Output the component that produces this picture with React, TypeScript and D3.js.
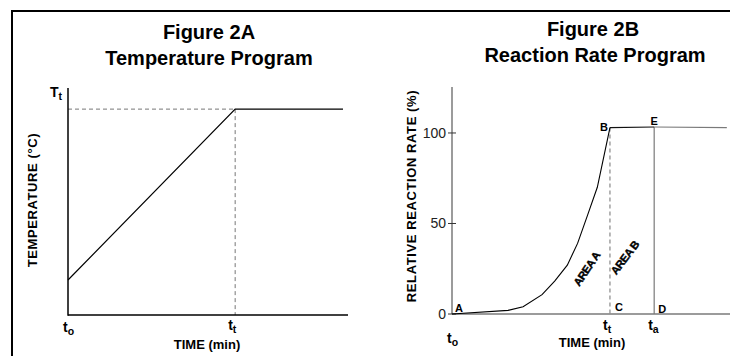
import React from 'react';
import * as d3 from 'd3';

// Figure 2A: temperature program (arbitrary units)
const tempTime = [0, 20, 32.9];
const tempValue = [15.4, 90.7, 90.7];
const tempTt = 20;
const tempTop = 90.7;

// Figure 2B: reaction rate program
const rateTime = [0, 7.1, 9.0, 11.4, 13.0, 14.6, 15.9, 17.2, 18.4, 20];
const rateValue = [0, 2, 4, 10.7, 18.2, 27, 39, 55, 70, 103];
const plateauTime = [20, 25.6];
const plateauValue = [103, 103.3];
const tailTime = [25.6, 34.8];
const tailValue = [103.3, 103];
const rateTicks = [0, 50, 100];
const tT = 20;
const tA = 25.6;

const FONT = 'Liberation Sans, Arial, Helvetica, sans-serif';

const Sub: React.FC<{ x: number; y: number; main: string; sub: string; size?: number }> = ({ x, y, main, sub, size = 14 }) => (
  <text x={x} y={y} fontSize={size} fontWeight="bold">
    {main}
    <tspan fontSize={size * 0.75} dy={3}>{sub}</tspan>
  </text>
);

const App: React.FC = () => {
  // panel A scales
  const xA = d3.scaleLinear().domain([0, 33.5]).range([68, 348]);
  const yA = d3.scaleLinear().domain([0, 100]).range([315, 88]);
  const lineA = d3.line<number>().x((_, i) => xA(tempTime[i])).y(d => yA(d));

  // panel B scales
  const xB = d3.scaleLinear().domain([0, 35.2]).range([452, 730]);
  const yB = d3.scaleLinear().domain([0, 125.4]).range([314, 87]);
  const lineB = d3.line<[number, number]>().x(d => xB(d[0])).y(d => yB(d[1]));
  const curve = rateTime.map((t, i) => [t, rateValue[i]] as [number, number]);
  const plateau = plateauTime.map((t, i) => [t, plateauValue[i]] as [number, number]);
  const tail = tailTime.map((t, i) => [t, tailValue[i]] as [number, number]);

  const grayAxis = '#7a7a7a';

  return (
    <svg width={730} height={356} style={{ position: 'absolute', left: 0, top: 0, background: '#fff' }} fontFamily={FONT}>
      {/* frame */}
      <line x1={12} y1={11} x2={730} y2={11} stroke="#000" strokeWidth={2} />
      <line x1={12} y1={10} x2={12} y2={356} stroke="#000" strokeWidth={2} />

      {/* ---- Figure 2A ---- */}
      <text x={209} y={39} fontSize={20} fontWeight="bold" textAnchor="middle">Figure 2A</text>
      <text x={209} y={65} fontSize={20} fontWeight="bold" textAnchor="middle">Temperature Program</text>

      <line x1={xA(0)} y1={yA(tempTop)} x2={xA(tempTt)} y2={yA(tempTop)} stroke="#777" strokeDasharray="4,3" />
      <line x1={xA(tempTt)} y1={yA(tempTop)} x2={xA(tempTt)} y2={yA(0)} stroke="#777" strokeDasharray="4,3" />
      <path d={lineA(tempValue) || ''} fill="none" stroke="#000" strokeWidth={1.2} />
      <line x1={xA(0)} y1={yA(0)} x2={xA(33.5)} y2={yA(0)} stroke="#000" strokeWidth={1.5} />
      <line x1={xA(0)} y1={yA(100)} x2={xA(0)} y2={yA(0) + 0.75} stroke="#000" strokeWidth={1.5} />

      <Sub x={50} y={97} main="T" sub="t" />
      <Sub x={xA(0) - 5} y={332} main="t" sub="o" />
      <Sub x={xA(tempTt) - 7} y={330} main="t" sub="t" />
      <text x={207} y={349} fontSize={13} fontWeight="bold" textAnchor="middle">TIME (min)</text>
      <text transform="translate(37,200) rotate(-90)" fontSize={13} fontWeight="bold" textAnchor="middle" letterSpacing={0.6}>TEMPERATURE (°C)</text>

      {/* ---- Figure 2B ---- */}
      <text x={593} y={36} fontSize={20} fontWeight="bold" textAnchor="middle">Figure 2B</text>
      <text x={595} y={62} fontSize={20} fontWeight="bold" textAnchor="middle">Reaction Rate Program</text>

      <line x1={xB(0)} y1={yB(125.4)} x2={xB(0)} y2={yB(0)} stroke={grayAxis} strokeWidth={1.5} />
      <line x1={xB(0)} y1={yB(0)} x2={730} y2={yB(0)} stroke={grayAxis} strokeWidth={1.5} />
      {rateTicks.map(t => (
        <g key={t}>
          <line x1={xB(0) - 4} y1={yB(t)} x2={xB(0) + 4} y2={yB(t)} stroke="#333" strokeWidth={1} />
          <text x={xB(0) - 6} y={yB(t) + 5} fontSize={14} textAnchor="end" fill="#222">{t}</text>
        </g>
      ))}

      <line x1={xB(tT)} y1={yB(plateauValue[0])} x2={xB(tT)} y2={yB(0)} stroke="#888" strokeWidth={1.2} strokeDasharray="4,3" />
      <line x1={xB(tA)} y1={yB(plateauValue[1])} x2={xB(tA)} y2={yB(0)} stroke={grayAxis} strokeWidth={1.2} />
      <path d={lineB(curve) || ''} fill="none" stroke="#000" strokeWidth={1.1} />
      <path d={lineB(plateau) || ''} fill="none" stroke="#111" strokeWidth={1.2} />
      <path d={lineB(tail) || ''} fill="none" stroke={grayAxis} strokeWidth={1.2} />

      <g fontSize={11} fontWeight="bold">
        <text x={xB(0) + 3} y={312}>A</text>
        <text x={xB(tT) - 2} y={131} textAnchor="end">B</text>
        <text x={xB(tA)} y={125} textAnchor="middle">E</text>
        <text x={xB(tT) + 5} y={311}>C</text>
        <text x={xB(tA) + 4} y={313}>D</text>
        <text transform="translate(590,271) rotate(-56)" textAnchor="middle" letterSpacing={-0.5} stroke="#000" strokeWidth={0.4}>AREA A</text>
        <text transform="translate(628,260) rotate(-53)" textAnchor="middle" letterSpacing={-0.5} stroke="#000" strokeWidth={0.4}>AREA B</text>
      </g>

      <Sub x={xB(0) - 5} y={343} main="t" sub="o" />
      <Sub x={xB(tT) - 7} y={330} main="t" sub="t" />
      <Sub x={xB(tA) - 6} y={330} main="t" sub="a" />
      <text x={592} y={347} fontSize={13} fontWeight="bold" textAnchor="middle">TIME (min)</text>
      <text transform="translate(416,196) rotate(-90)" fontSize={13} fontWeight="bold" textAnchor="middle" letterSpacing={0.6}>RELATIVE REACTION RATE (%)</text>
    </svg>
  );
};

export default App;
